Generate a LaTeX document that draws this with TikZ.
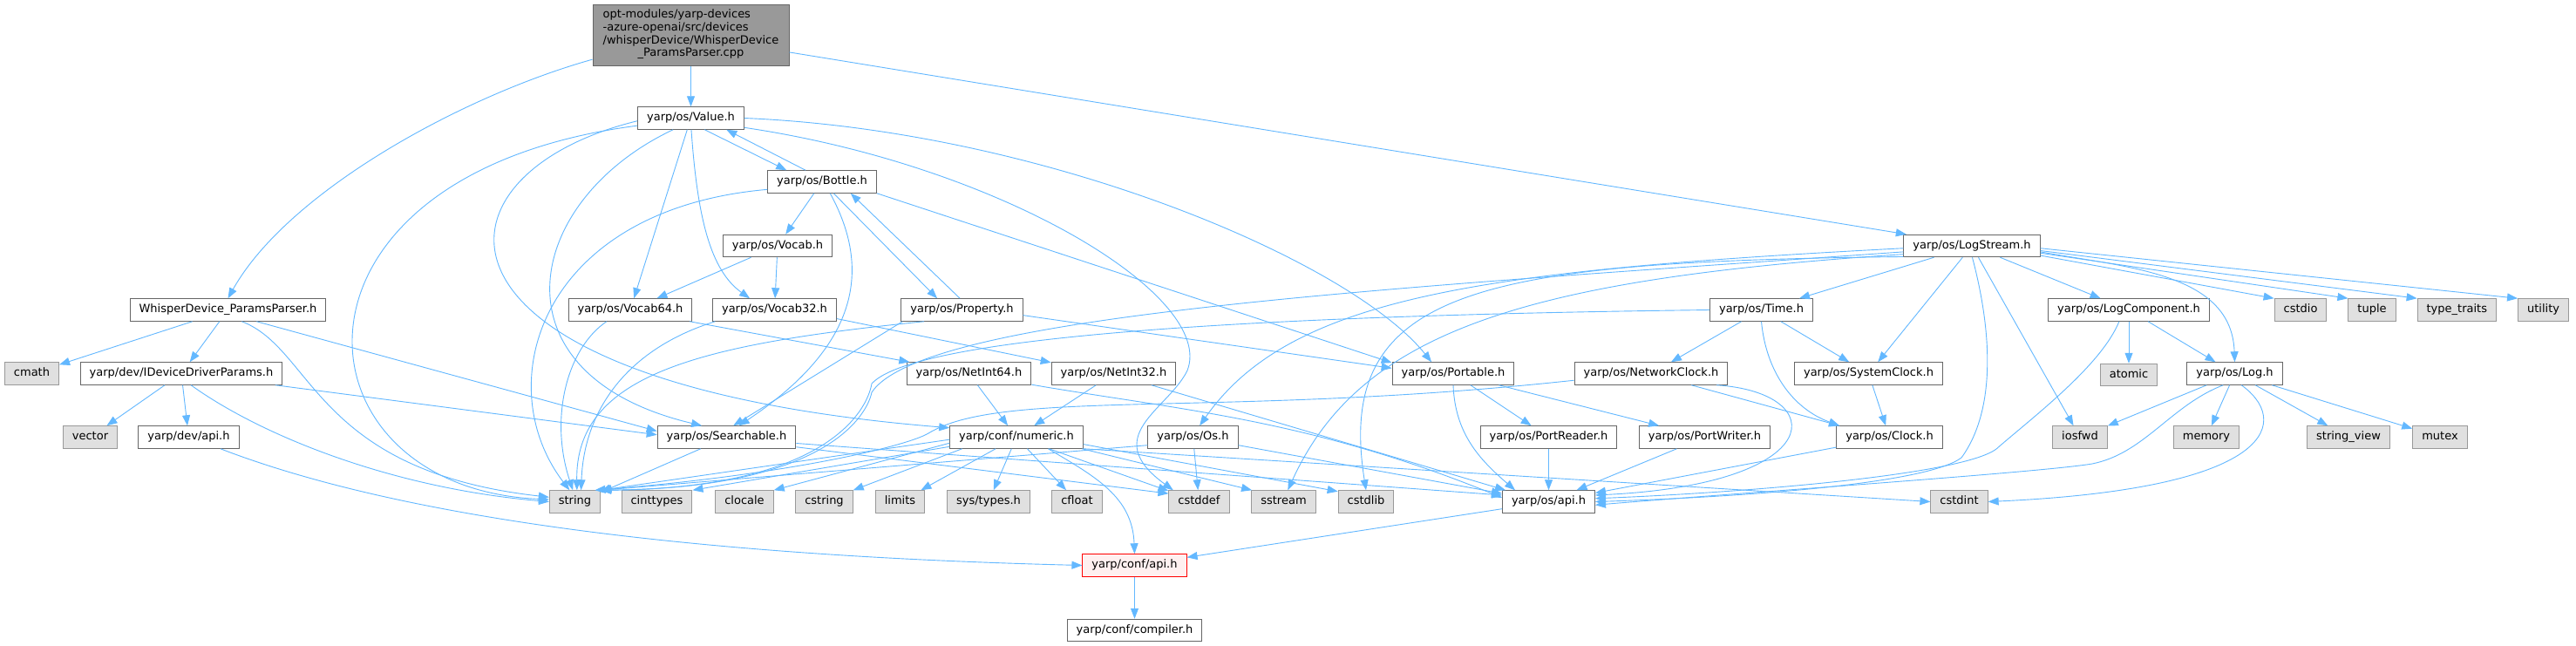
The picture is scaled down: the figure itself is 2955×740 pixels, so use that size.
\documentclass[tikz,border=0pt]{standalone}
\usepackage{fontspec}
\setmainfont{DejaVu Sans}
\usetikzlibrary{arrows.meta, positioning}

\definecolor{edgeblue}{HTML}{63B8FF}
\definecolor{boxline}{HTML}{666666}
\definecolor{sysfill}{HTML}{E0E0E0}
\definecolor{sysline}{HTML}{999999}
\definecolor{srcfill}{HTML}{999999}
\definecolor{hotfill}{HTML}{FFF0F0}

\begin{document}
\begin{tikzpicture}[
    x=1pt, y=-1pt,
    font=\fontsize{13}{14.7}\selectfont,
    hdr/.style={rectangle, draw=boxline, fill=white, line width=1pt,
        inner xsep=10.5pt, inner ysep=0pt, minimum height=25.5pt,
        text height=9.9pt, text depth=3.1pt},
    syshdr/.style={hdr, draw=sysline, fill=sysfill},
    hothdr/.style={hdr, draw=red, fill=hotfill},
    srcfile/.style={rectangle, draw=boxline, fill=srcfill, line width=1pt,
        minimum width=225pt, minimum height=70pt, inner sep=0pt},
    dep/.style={draw=edgeblue, line width=0.9pt, -{Triangle[length=12pt,width=9pt]}}]

        \useasboundingbox (0,0) rectangle (2955,740);
        \fill[white] (0,0) rectangle (2955,740);

        \node[srcfile] (src_cpp) at (792.5,40)
            {\begin{tabular}{@{}l@{}}
                opt-modules/yarp-devices\\
                -azure-openai/src/devices\\
                /whisperDevice/WhisperDevice\\
                \multicolumn{1}{@{}c@{}}{\_ParamsParser.cpp}
            \end{tabular}};

        \node[hdr] (value_h) at (792.5,135.5) {yarp/os/Value.h};
        \node[hdr] (bottle_h) at (943,208.5) {yarp/os/Bottle.h};
        \node[hdr] (vocab_h) at (892,282) {yarp/os/Vocab.h};
        \node[hdr] (logstream_h) at (2262,282) {yarp/os/LogStream.h};

        \node[hdr] (wdpp_h) at (261.5,355.5) {WhisperDevice\_ParamsParser.h};
        \node[hdr] (vocab64_h) at (723,355.5) {yarp/os/Vocab64.h};
        \node[hdr] (vocab32_h) at (888.5,355.5) {yarp/os/Vocab32.h};
        \node[hdr] (property_h) at (1103.5,355.5) {yarp/os/Property.h};
        \node[hdr] (time_h) at (2020.5,355.5) {yarp/os/Time.h};
        \node[hdr] (logcomponent_h) at (2442,355.5) {yarp/os/LogComponent.h};
        \node[syshdr] (std_cstdio) at (2639,355.5) {cstdio};
        \node[syshdr] (std_tuple) [right=24pt of std_cstdio] {tuple};
        \node[syshdr] (std_typetraits) [right=24pt of std_tuple] {type\_traits};
        \node[syshdr] (std_utility) [right=24pt of std_typetraits] {utility};

        \node[syshdr] (std_cmath) at (36.5,428.5) {cmath};
        \node[hdr] (iddp_h) at (208,428.5) {yarp/dev/IDeviceDriverParams.h};
        \node[hdr] (netint64_h) at (1111.5,428.5) {yarp/os/NetInt64.h};
        \node[hdr] (netint32_h) at (1277.5,428.5) {yarp/os/NetInt32.h};
        \node[hdr] (portable_h) at (1667,428.5) {yarp/os/Portable.h};
        \node[hdr] (networkclock_h) at (1894,428.5) {yarp/os/NetworkClock.h};
        \node[hdr] (systemclock_h) at (2143.5,428.5) {yarp/os/SystemClock.h};
        \node[syshdr] (std_atomic) [below=48pt of logcomponent_h] {atomic};
        \node[hdr] (log_h) at (2563.5,428.5) {yarp/os/Log.h};

        \node[syshdr] (std_vector) at (103.5,501.5) {vector};
        \node[hdr] (devapi_h) at (216.5,501.5) {yarp/dev/api.h};
        \node[hdr] (searchable_h) at (833.5,501.5) {yarp/os/Searchable.h};
        \node[hdr] (numeric_h) at (1166,501.5) {yarp/conf/numeric.h};
        \node[hdr] (os_h) at (1368.5,501.5) {yarp/os/Os.h};
        \node[hdr] (portreader_h) at (1776.5,501.5) {yarp/os/PortReader.h};
        \node[hdr] (portwriter_h) at (1955.5,501.5) {yarp/os/PortWriter.h};
        \node[hdr] (clock_h) at (2167.5,501.5) {yarp/os/Clock.h};
        \node[syshdr] (std_iosfwd) at (2386,501.5) {iosfwd};
        \node[syshdr] (std_memory) at (2531,501.5) {memory};
        \node[syshdr] (std_stringview) at (2694,501.5) {string\_view};
        \node[syshdr] (std_mutex) at (2799,501.5) {mutex};

        \node[syshdr] (std_string) at (659.5,575.5) {string};
        \node[syshdr] (std_cinttypes) at (753.5,575.5) {cinttypes};
        \node[syshdr] (std_clocale) at (854,575.5) {clocale};
        \node[syshdr] (std_cstring) at (945.5,575.5) {cstring};
        \node[syshdr] (std_limits) at (1032.5,575.5) {limits};
        \node[syshdr] (std_systypes) at (1134,575.5) {sys/types.h};
        \node[syshdr] (std_cfloat) at (1235.5,575.5) {cfloat};
        \node[syshdr] (std_cstddef) at (1375.5,575.5) {cstddef};
        \node[syshdr] (std_sstream) at (1472.5,575.5) {sstream};
        \node[syshdr] (std_cstdlib) at (1567,575.5) {cstdlib};
        \node[hdr] (osapi_h) at (1776.5,575.5) {yarp/os/api.h};
        \node[syshdr] (std_cstdint) at (2247.5,575.5) {cstdint};

        \node[hothdr] (confapi_h) at (1301.5,648.5) {yarp/conf/api.h};
        \node[hdr] (compiler_h) [below=48pt of confapi_h] {yarp/conf/compiler.h};

        \draw[dep] (src_cpp) -- (value_h);
        \draw[dep] (src_cpp.194) .. controls (530,110) and (330,220) .. (wdpp_h.north);
        \draw[dep] (src_cpp.-10) -- (logstream_h.170);

        \draw[dep] (wdpp_h) -- (std_cmath);
        \draw[dep] (wdpp_h) -- (iddp_h);
        \draw[dep] (wdpp_h.-40) .. controls (360,400) and (360,540) .. (std_string.170);
        \draw[dep] (wdpp_h.-22) -- (searchable_h.175);

        \draw[dep] (iddp_h) -- (std_vector);
        \draw[dep] (iddp_h) -- (devapi_h);
        \draw[dep] (iddp_h.-50) .. controls (300,500) and (450,560) .. (std_string.west);
        \draw[dep] (iddp_h.-7) -- (searchable_h.178);

        \draw[dep] (devapi_h.-20) .. controls (500,610) and (900,640) .. (confapi_h.west);

        \draw[dep] (value_h.-40) -- (bottle_h.162);
        \draw[dep] (value_h) -- (vocab64_h);
        \draw[dep] (value_h.-88) .. controls (800,250) and (815,310) .. (vocab32_h.155);
        \draw[dep] (value_h.-147) .. controls (600,230) and (560,430) .. (searchable_h.155);
        \draw[dep] (value_h.188) .. controls (300,200) and (330,560) .. (std_string.175);
        \draw[dep] (value_h.183) .. controls (480,200) and (460,440) .. (numeric_h.172);
        \draw[dep] (value_h.-10) .. controls (1150,190) and (1395,340) .. (1362,425)
            .. controls (1340,470) and (1260,500) .. (std_cstddef.156);
        \draw[dep] (value_h.east) .. controls (1200,150) and (1550,300) .. (portable_h.152);

        \draw[dep] (bottle_h.145) -- (value_h.-18);
        \draw[dep] (bottle_h) -- (vocab_h);
        \draw[dep] (bottle_h.-45) -- (property_h.155);
        \draw[dep] (bottle_h.-55) .. controls (995,300) and (995,390) .. (searchable_h.43);
        \draw[dep] (bottle_h.south east) -- (portable_h.170);
        \draw[dep] (bottle_h.188) .. controls (620,240) and (560,440) .. (std_string.115);

        \draw[dep] (property_h.100) -- (bottle_h.-22);
        \draw[dep] (property_h.-5) -- (portable_h.175);
        \draw[dep] (property_h.-169) -- (searchable_h.60);
        \draw[dep] (property_h.-163) .. controls (800,395) and (660,430) .. (std_string.80);

        \draw[dep] (vocab_h) -- (vocab64_h);
        \draw[dep] (vocab_h) -- (vocab32_h);
        \draw[dep] (vocab64_h.-154) .. controls (650,400) and (630,480) .. (std_string.100);
        \draw[dep] (vocab64_h.-11) -- (netint64_h.169);
        \draw[dep] (vocab32_h.-169) .. controls (720,400) and (670,470) .. (std_string.62);
        \draw[dep] (vocab32_h.-8) -- (netint32_h.170);

        \draw[dep] (netint64_h) -- (numeric_h);
        \draw[dep] (netint64_h.-10) .. controls (1350,470) and (1500,480) .. (osapi_h.175);
        \draw[dep] (netint32_h) -- (numeric_h);
        \draw[dep] (netint32_h.-17) -- (osapi_h.165);

        \draw[dep] (searchable_h.-156) -- (std_string.20);
        \draw[dep] (searchable_h.-8) -- (std_cstddef.165);
        \draw[dep] (searchable_h.-5) -- (osapi_h.172);

        \draw[dep] (numeric_h.-20) .. controls (1257,547) and (1299,570) .. (confapi_h.north);
        \draw[dep] (numeric_h.-178) -- (std_string.north east);
        \draw[dep] (numeric_h.-172) -- (std_cinttypes.north east);
        \draw[dep] (numeric_h.-175) -- (std_clocale.north east);
        \draw[dep] (numeric_h.-168) -- (std_cstring.north east);
        \draw[dep] (numeric_h) -- (std_limits);
        \draw[dep] (numeric_h) -- (std_systypes);
        \draw[dep] (numeric_h) -- (std_cfloat);
        \draw[dep] (numeric_h) -- (std_cstddef);
        \draw[dep] (numeric_h.-10) -- (std_sstream.160);
        \draw[dep] (numeric_h.-6) -- (std_cstdlib.160);
        \draw[dep] (numeric_h.south east) -- (std_cstdint.west);

        \draw[dep] (os_h) -- (std_cstddef);
        \draw[dep] (os_h.-170) -- (std_string.north east);
        \draw[dep] (os_h.-10) -- (osapi_h.170);

        \draw[dep] (portable_h.south) .. controls (1669,497) and (1697,527) .. (osapi_h.161);
        \draw[dep] (portable_h) -- (portreader_h);
        \draw[dep] (portable_h) -- (portwriter_h);
        \draw[dep] (portreader_h) -- (osapi_h);
        \draw[dep] (portwriter_h) -- (osapi_h);

        \draw[dep] (time_h) -- (networkclock_h);
        \draw[dep] (time_h) -- (systemclock_h);
        \draw[dep] (time_h.south) .. controls (2026,427) and (2057,469) .. (clock_h.167);
        \draw[dep] (time_h.west) .. controls (1600,360) and (1060,375) .. (1000,440)
            .. controls (995,470) and (950,560) .. (std_string.north east);

        \draw[dep] (networkclock_h.-16) -- (clock_h.167);
        \draw[dep] (networkclock_h.-10) .. controls (2100,450) and (2100,555) .. (osapi_h.8);
        \draw[dep] (networkclock_h.185) .. controls (1400,480) and (1150,445) .. (1065,497)
            .. controls (1040,512) and (900,545) .. (std_string.30);

        \draw[dep] (systemclock_h) -- (clock_h);
        \draw[dep] (clock_h) -- (osapi_h);

        \draw[dep] (logstream_h) -- (time_h);
        \draw[dep] (logstream_h) -- (systemclock_h);
        \draw[dep] (logstream_h) -- (logcomponent_h);
        \draw[dep] (logstream_h) -- (std_iosfwd);
        \draw[dep] (logstream_h.-5) .. controls (2441,307) and (2560,313) .. (log_h.north);
        \draw[dep] (logstream_h.-8) -- (std_cstdio.north west);
        \draw[dep] (logstream_h.-6) -- (std_tuple.north west);
        \draw[dep] (logstream_h.-4) -- (std_typetraits.north west);
        \draw[dep] (logstream_h.-2) -- (std_utility.north west);
        \draw[dep] (logstream_h.182) .. controls (1700,310) and (1480,340) .. (os_h.60);
        \draw[dep] (logstream_h.185) .. controls (1600,330) and (1060,360) .. (1000,450)
            .. controls (995,475) and (950,560) .. (std_string.north east);
        \draw[dep] (logstream_h.187) .. controls (1750,320) and (1560,380) .. (std_sstream.70);
        \draw[dep] (logstream_h.189) .. controls (1700,300) and (1530,330) .. (std_cstdlib.north);
        \draw[dep] (logstream_h.-88) .. controls (2285,380) and (2290,470) .. (2250,525)
            .. controls (2210,555) and (2000,570) .. (osapi_h.0);

        \draw[dep] (logcomponent_h) -- (std_atomic);
        \draw[dep] (logcomponent_h) -- (log_h);
        \draw[dep] (logcomponent_h.-130) .. controls (2410,420) and (2330,480) .. (2290,515)
            .. controls (2250,545) and (2000,565) .. (osapi_h.4);

        \draw[dep] (log_h) -- (std_iosfwd);
        \draw[dep] (log_h) -- (std_memory);
        \draw[dep] (log_h) -- (std_stringview);
        \draw[dep] (log_h) -- (std_mutex);
        \draw[dep] (log_h.-60) .. controls (2625,480) and (2620,560) .. (std_cstdint.east);
        \draw[dep] (log_h.-135) .. controls (2490,465) and (2460,520) .. (2400,532)
            .. controls (2340,542) and (2000,565) .. (osapi_h.-4);

        \draw[dep] (osapi_h) -- (confapi_h);
        \draw[dep] (confapi_h) -- (compiler_h);

    \end{tikzpicture}
\end{document}
